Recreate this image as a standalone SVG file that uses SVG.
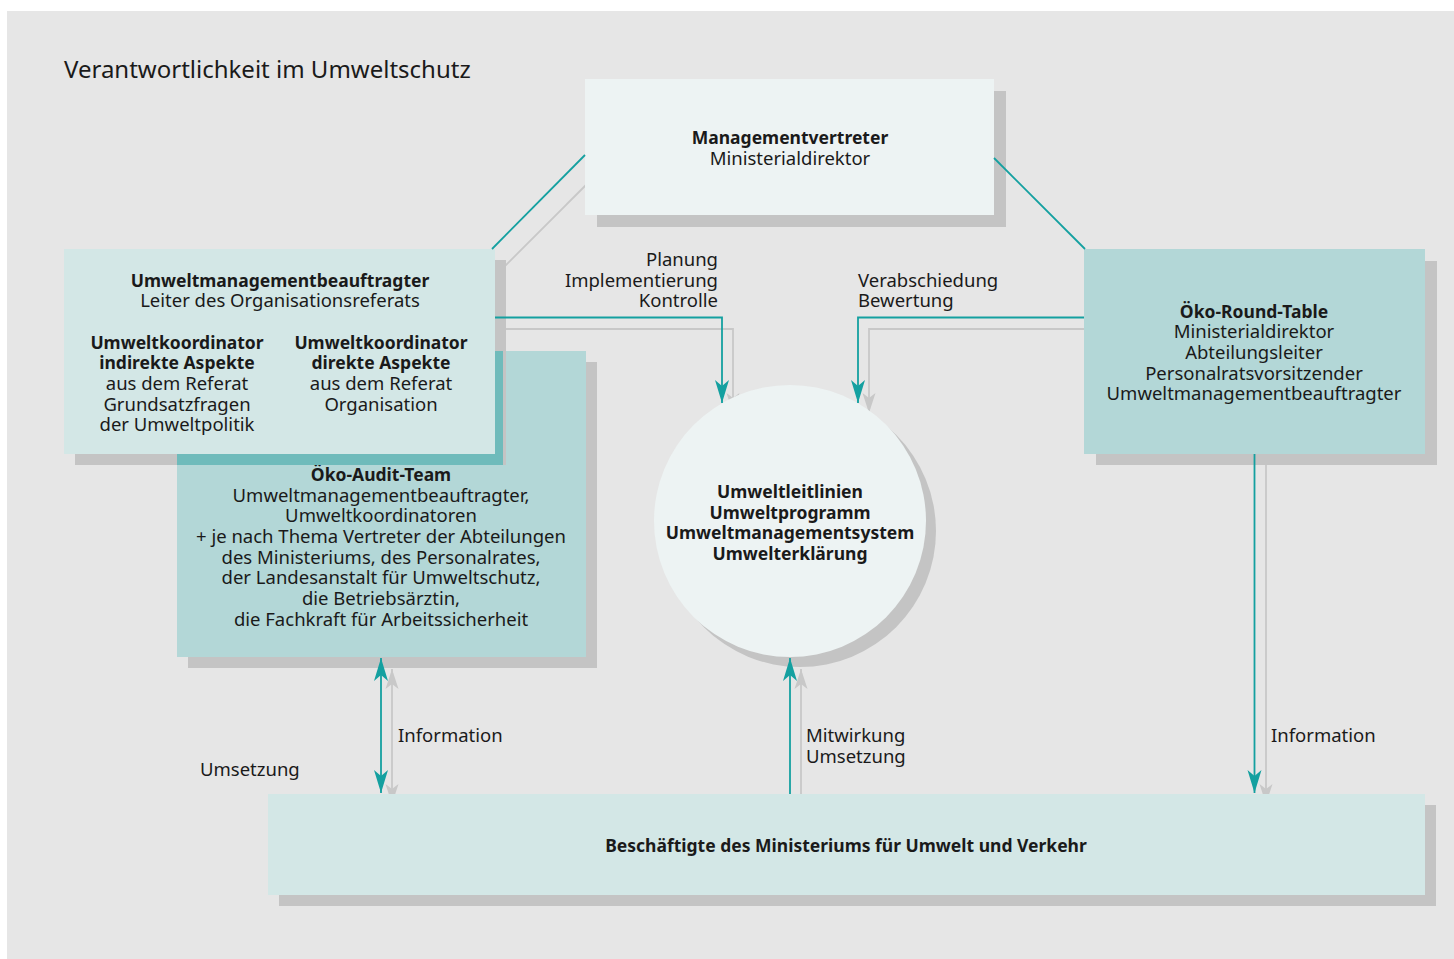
<svg xmlns="http://www.w3.org/2000/svg" width="1454" height="959" viewBox="0 0 1454 959">
<defs>
<style>
text{font-family:"Noto Sans","Open Sans",sans-serif;font-size:18.5px;fill:#1a1a1a}
.b{font-weight:bold;font-size:17.5px}
.c{text-anchor:middle}
.r{text-anchor:end}
.sh{fill:#c4c4c4}
.tl{fill:none;stroke:#14a0a0;stroke-width:1.8}
.gl{fill:none;stroke:#c8c8c8;stroke-width:1.8}
</style>
<marker id="at" markerUnits="userSpaceOnUse" markerWidth="26" markerHeight="18" viewBox="-23 -8 26 16" refX="0" refY="0" orient="auto-start-reverse">
<path d="M0,0 L-23,-7 L-17,0 L-23,7 Z" fill="#14a0a0"/>
</marker>
<marker id="ag" markerUnits="userSpaceOnUse" markerWidth="26" markerHeight="18" viewBox="-23 -8 26 16" refX="0" refY="0" orient="auto-start-reverse">
<path d="M0,0 L-20,-6.5 L-15,0 L-20,6.5 Z" fill="#c8c8c8"/>
</marker>
</defs>
<rect x="0" y="0" width="1454" height="959" fill="#ffffff"/>
<rect x="7" y="11" width="1447" height="948" fill="#e6e6e6"/>
<text x="64" y="78" style="font-size:24px">Verantwortlichkeit im Umweltschutz</text>

<g id="connector-shadows">
<line class="gl" x1="600" y1="171" x2="500" y2="271"/>
<polyline class="gl" points="500,329 733,329 733,413" marker-end="url(#ag)"/>
<polyline class="gl" points="1090,329 869,329 869,413" marker-end="url(#ag)"/>
<line class="gl" x1="392" y1="669" x2="392" y2="804" marker-start="url(#ag)" marker-end="url(#ag)"/>
<line class="gl" x1="801" y1="805" x2="801" y2="669" marker-end="url(#ag)"/>
<line class="gl" x1="1266" y1="465" x2="1266" y2="804" marker-end="url(#ag)"/>
</g>

<g id="node-management">
<rect class="sh" x="597" y="91" width="409" height="136"/>
<rect x="585" y="79" width="409" height="136" fill="#edf3f3"/>
<text class="c b" x="790" y="144">Managementvertreter</text>
<text class="c" x="790" y="165">Ministerialdirektor</text>
</g>

<g id="node-audit-team">
<rect class="sh" x="188" y="362" width="409" height="306"/>
<rect x="177" y="351" width="409" height="306" fill="#b3d7d7"/>
<text class="c b" x="381" y="481">Öko-Audit-Team</text>
<text class="c" x="381" y="502">Umweltmanagementbeauftragter,</text>
<text class="c" x="381" y="522">Umweltkoordinatoren</text>
<text class="c" x="381" y="543">+ je nach Thema Vertreter der Abteilungen</text>
<text class="c" x="381" y="564">des Ministeriums, des Personalrates,</text>
<text class="c" x="381" y="584">der Landesanstalt für Umweltschutz,</text>
<text class="c" x="381" y="605">die Betriebsärztin,</text>
<text class="c" x="381" y="626">die Fachkraft für Arbeitssicherheit</text>
</g>

<g id="node-umweltmanagementbeauftragter">
<rect class="sh" x="75" y="260" width="431" height="205"/>
<path d="M177,454 H495 V351 H503 V465 H177 Z" fill="#6fbbbb"/>
<rect x="64" y="249" width="431" height="205" fill="#d3e7e6"/>
<text class="c b" x="280" y="287">Umweltmanagementbeauftragter</text>
<text class="c" x="280" y="307">Leiter des Organisationsreferats</text>
<text class="c b" x="177" y="349">Umweltkoordinator</text>
<text class="c b" x="177" y="369">indirekte Aspekte</text>
<text class="c" x="177" y="390">aus dem Referat</text>
<text class="c" x="177" y="411">Grundsatzfragen</text>
<text class="c" x="177" y="431">der Umweltpolitik</text>
<text class="c b" x="381" y="349">Umweltkoordinator</text>
<text class="c b" x="381" y="369">direkte Aspekte</text>
<text class="c" x="381" y="390">aus dem Referat</text>
<text class="c" x="381" y="411">Organisation</text>
</g>

<g id="node-round-table">
<rect class="sh" x="1096" y="261" width="341" height="204"/>
<rect x="1084" y="249" width="341" height="205" fill="#b3d7d7"/>
<text class="c b" x="1254" y="318">Öko-Round-Table</text>
<text class="c" x="1254" y="338">Ministerialdirektor</text>
<text class="c" x="1254" y="359">Abteilungsleiter</text>
<text class="c" x="1254" y="380">Personalratsvorsitzender</text>
<text class="c" x="1254" y="400">Umweltmanagementbeauftragter</text>
</g>

<g id="node-beschaeftigte">
<rect class="sh" x="279" y="805" width="1157" height="101"/>
<rect x="268" y="794" width="1157" height="101" fill="#d3e7e6"/>
<text class="c b" x="846" y="852">Beschäftigte des Ministeriums für Umwelt und Verkehr</text>
</g>

<g id="node-umweltleitlinien">
<circle class="sh" cx="800" cy="531" r="136"/>
<circle cx="790" cy="521" r="136" fill="#edf3f3"/>
<text class="c b" x="790" y="498">Umweltleitlinien</text>
<text class="c b" x="790" y="519">Umweltprogramm</text>
<text class="c b" x="790" y="539">Umweltmanagementsystem</text>
<text class="c b" x="790" y="560">Umwelterklärung</text>
</g>

<g id="connectors">
<line class="tl" x1="585" y1="155" x2="492" y2="249"/>
<line class="tl" x1="994" y1="158" x2="1085" y2="249"/>
<polyline class="tl" points="495,317.5 722,317.5 722,403" marker-end="url(#at)"/>
<polyline class="tl" points="1084,317.5 858,317.5 858,403" marker-end="url(#at)"/>
<line class="tl" x1="381" y1="658" x2="381" y2="793" marker-start="url(#at)" marker-end="url(#at)"/>
<line class="tl" x1="790" y1="794" x2="790" y2="658" marker-end="url(#at)"/>
<line class="tl" x1="1254.5" y1="454" x2="1254.5" y2="793" marker-end="url(#at)"/>
</g>

<g id="labels">
<text class="r" x="718" y="266">Planung</text>
<text class="r" x="718" y="287">Implementierung</text>
<text class="r" x="718" y="307">Kontrolle</text>
<text x="858" y="287">Verabschiedung</text>
<text x="858" y="307">Bewertung</text>
<text x="398" y="742">Information</text>
<text x="200" y="776">Umsetzung</text>
<text x="806" y="742">Mitwirkung</text>
<text x="806" y="763">Umsetzung</text>
<text x="1271" y="742">Information</text>
</g>
</svg>
